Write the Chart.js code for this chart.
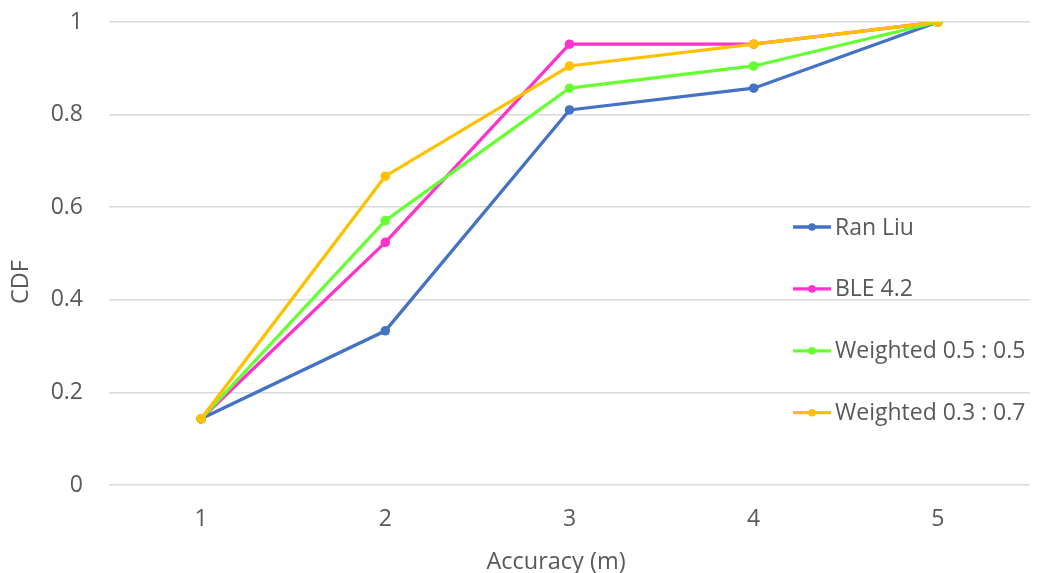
<!DOCTYPE html>
<html>
<head>
<meta charset="utf-8">
<title>CDF of accuracy</title>
<script src="https://cdn.jsdelivr.net/npm/chart.js@4"></script>
<style>
  html, body { margin: 0; padding: 0; background: #ffffff; }
  #wrap { width: 1038px; height: 573px; position: relative; }
</style>
</head>
<body>
<div id="wrap"><canvas id="chart"></canvas></div>
<script>
// Accuracy thresholds (m)
const categories = ['1', '2', '3', '4', '5'];

// Cumulative fraction of fixes within each threshold
const ranLiu     = [0.143, 0.333, 0.810, 0.857, 1.000];
const ble42      = [0.143, 0.524, 0.952, 0.952, 1.000];
const weighted55 = [0.143, 0.571, 0.857, 0.905, 1.000];
const weighted37 = [0.143, 0.667, 0.905, 0.952, 1.000];

const seriesNames  = ['Ran Liu', 'BLE 4.2', 'Weighted 0.5 : 0.5', 'Weighted 0.3 : 0.7'];
const seriesColors = ['#4472C4', '#FF33CC', '#66FF33', '#FFC000'];
const seriesValues = [ranLiu, ble42, weighted55, weighted37];

const yTicks = [0, 0.2, 0.4, 0.6, 0.8, 1];

const FONT = '"Open Sans", "DejaVu Sans", sans-serif';
const TEXT = '#595959';

const datasets = seriesValues.map((vals, i) => ({
  label: seriesNames[i],
  data: vals,
  borderColor: seriesColors[i],
  backgroundColor: seriesColors[i],
  borderWidth: 3.3,
  pointRadius: 4.8,
  pointBorderWidth: 0,
  pointHoverRadius: 4.8,
  tension: 0,
  fill: false,
  order: seriesValues.length - i   // later series painted on top
}));

// Legend drawn inside the plot area, plus the two axis titles
const overlay = {
  id: 'overlay',
  afterDraw(chart) {
    const ctx = chart.ctx;
    ctx.save();
    ctx.font = '23px ' + FONT;
    ctx.textBaseline = 'middle';
    ctx.textAlign = 'left';
    const x0 = 793, x1 = 831, rowTop = 227, rowGap = 61.9;
    seriesNames.forEach((name, i) => {
      const y = rowTop + i * rowGap;
      ctx.strokeStyle = seriesColors[i];
      ctx.lineWidth = 3.3;
      ctx.beginPath();
      ctx.moveTo(x0, y);
      ctx.lineTo(x1, y);
      ctx.stroke();
      ctx.fillStyle = seriesColors[i];
      ctx.beginPath();
      ctx.arc((x0 + x1) / 2, y, 3.8, 0, Math.PI * 2);
      ctx.fill();
      ctx.fillStyle = TEXT;
      ctx.fillText(name, 835, y + 1);
    });

    // axis titles
    ctx.fillStyle = TEXT;
    ctx.font = '23.5px ' + FONT;
    ctx.textAlign = 'center';
    ctx.fillText('Accuracy (m)', 556, 562);
    ctx.translate(21, 282);
    ctx.rotate(-Math.PI / 2);
    ctx.fillText('CDF', 0, 0);
    ctx.restore();
  }
};

new Chart(document.getElementById('chart'), {
  type: 'line',
  data: { labels: categories, datasets },
  options: {
    responsive: true,
    maintainAspectRatio: false,
    animation: false,
    layout: { padding: { top: 22, right: 8, bottom: 0, left: 0 } },
    plugins: {
      legend: { display: false },
      tooltip: { enabled: false }
    },
    scales: {
      x: {
        type: 'category',
        offset: true,
        grid: { display: false, drawTicks: false },
        border: { display: false },
        ticks: { color: TEXT, font: { family: FONT, size: 23 }, padding: 21, maxRotation: 0 },
        afterFit(scale) { scale.height = 88; }
      },
      y: {
        min: 0,
        max: 1,
        afterBuildTicks(scale) { scale.ticks = yTicks.map(v => ({ value: v })); },
        grid: {
          color: '#d9d9d9',
          lineWidth: 1.5,
          drawTicks: true,
          tickLength: 26,
          tickColor: 'rgba(0,0,0,0)'
        },
        border: { display: false },
        ticks: {
          color: TEXT,
          font: { family: FONT, size: 23 },
          padding: 0,
          callback: v => String(v)
        },
        afterFit(scale) { scale.width = 109; }
      }
    }
  },
  plugins: [overlay]
});
</script>
</body>
</html>
